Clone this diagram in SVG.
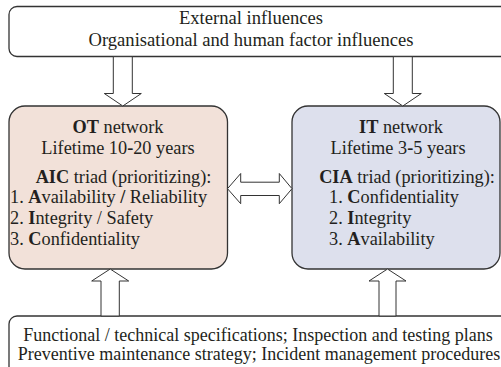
<svg xmlns="http://www.w3.org/2000/svg" width="501" height="367" viewBox="0 0 501 367">
<style>
text{font-family:"Liberation Serif","Times New Roman",serif;font-size:18.3px;fill:#231f20}
.t{font-size:18.6px}
.p{font-size:18px}
.b{font-weight:bold}
.box{stroke:#333;stroke-width:1.3}
.arr{fill:#fff;stroke:#333;stroke-width:1}
</style>
<rect x="0" y="0" width="501" height="367" fill="#fff"/>
<g id="external">
<rect class="box" x="9" y="6.5" width="520" height="50" rx="8" fill="#fff"/>
<text class="t" x="251" y="24" text-anchor="middle">External influences</text>
<text class="t" x="251" y="46" text-anchor="middle">Organisational and human factor influences</text>
</g>
<g id="ot">
<rect class="box" x="9" y="106" width="218.5" height="163" rx="16" fill="#f2e1d9"/>
<text x="118" y="133" text-anchor="middle"><tspan class="b">OT</tspan> network</text>
<text x="118" y="154" text-anchor="middle">Lifetime 10<tspan class="b">-</tspan>20 years</text>
<text x="123.5" y="183" text-anchor="middle"><tspan class="b">AIC</tspan> triad (prioritizing):</text>
<text x="10" y="203">1. <tspan class="b">A</tspan>vailability <tspan class="b">/</tspan> Reliability</text>
<text x="10" y="224">2. <tspan class="b">I</tspan>ntegrity / Safety</text>
<text x="10" y="245">3. <tspan class="b">C</tspan>onfidentiality</text>
</g>
<g id="it">
<rect class="box" x="292" y="106" width="208" height="163" rx="16" fill="#dde0ed"/>
<text x="401" y="133" text-anchor="middle"><tspan class="b">IT</tspan> network</text>
<text x="398" y="154" text-anchor="middle">Lifetime 3<tspan class="b">-</tspan>5 years</text>
<text x="407" y="183" text-anchor="middle"><tspan class="b">CIA</tspan> triad (prioritizing):</text>
<text x="329" y="203">1. <tspan class="b">C</tspan>onfidentiality</text>
<text x="329" y="224">2. <tspan class="b">I</tspan>ntegrity</text>
<text x="329" y="245">3. <tspan class="b">A</tspan>vailability</text>
</g>
<g id="procedures">
<rect class="box" x="9" y="316" width="520" height="80" rx="8" fill="#fff"/>
<text class="p" x="258" y="341" text-anchor="middle">Functional / technical specifications; Inspection and testing plans</text>
<text class="p" x="259" y="360" text-anchor="middle">Preventive maintenance strategy; Incident management procedures</text>
</g>
<g id="connectors">
<polygon class="arr" points="113.3,56.7 113.3,93.5 104.3,93.5 122.8,106 141.3,93.5 132.3,93.5 132.3,56.7"/>
<polygon class="arr" points="393.3,56.7 393.3,93.5 384.3,93.5 402.8,106 421.3,93.5 412.3,93.5 412.3,56.7"/>
<polygon class="arr" points="101,316 101,281 91.7,281 110.2,269 128.7,281 119.3,281 119.3,316"/>
<polygon class="arr" points="379,316 379,281 369,281 387.5,269 406,281 396,281 396,316"/>
<polygon class="arr" points="227.5,188.7 240.7,173.5 240.7,182.2 279.3,182.2 279.3,173.5 292,188.7 279.3,203.7 279.3,195.5 240.7,195.5 240.7,203.7"/>
</g>
</svg>
